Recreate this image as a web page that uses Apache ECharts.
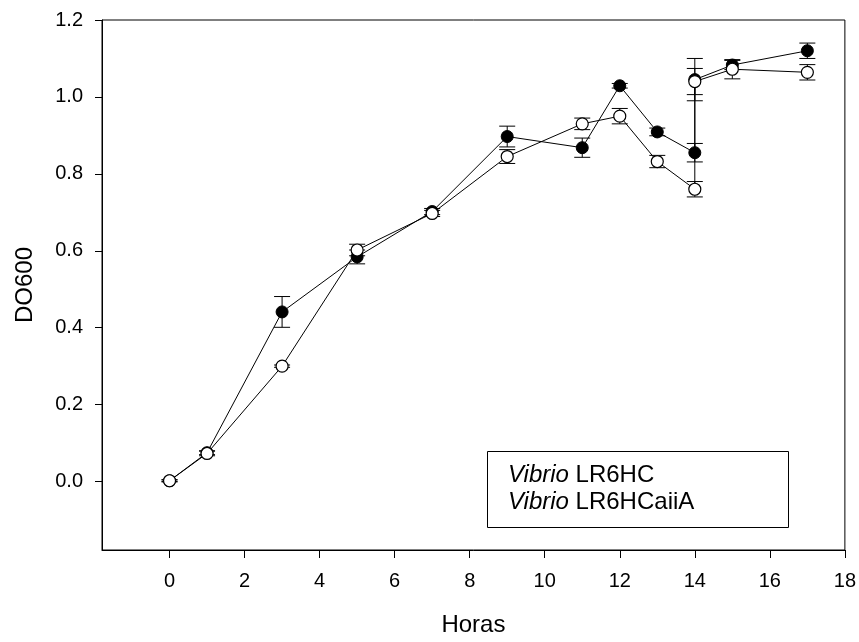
<!DOCTYPE html>
<html>
<head>
<meta charset="utf-8">
<script src="https://cdn.jsdelivr.net/npm/echarts@6/dist/echarts.min.js"></script>
<style>html,body{margin:0;padding:0;background:#fff}#c{width:859px;height:642px}</style>
</head>
<body>
<div id="c"></div>
<script>
// ---- data ----
var hours = [0, 1, 3, 5, 7, 9, 11, 12, 13, 14, 14, 15, 17];
var lr6hc = [0.002, 0.075, 0.441, 0.584, 0.702, 0.897, 0.868, 1.029, 0.909, 0.855, 1.045, 1.083, 1.120];
var lr6hcErr = [0.002, 0.005, 0.040, 0.018, 0.008, 0.027, 0.025, 0.006, 0.010, 0.024, 0.055, 0.012, 0.020];
var lr6hcaiiA = [0.002, 0.073, 0.300, 0.602, 0.697, 0.845, 0.930, 0.950, 0.832, 0.760, 1.040, 1.072, 1.064];
var lr6hcaiiAErr = [0.003, 0.006, 0.003, 0.015, 0.008, 0.018, 0.015, 0.020, 0.016, 0.020, 0.034, 0.025, 0.020];
var xTicks = [0, 2, 4, 6, 8, 10, 12, 14, 16, 18];
var yTicks = [0, 0.2, 0.4, 0.6, 0.8, 1.0, 1.2];
var seriesNames = ['Vibrio LR6HC', 'Vibrio LR6HCaiiA'];
var xName = 'Horas';
var yName = 'DO600';

var FONT = 'Liberation Sans, Arial, sans-serif';

function pts(v) { return hours.map(function (h, i) { return [h, v[i]]; }); }
function errData(v, e) { return hours.map(function (h, i) { return [h, v[i] - e[i], v[i] + e[i]]; }); }

function errRender(params, api) {
  var x = api.value(0);
  var lo = api.coord([x, api.value(1)]);
  var hi = api.coord([x, api.value(2)]);
  var hw = 8;
  var st = { stroke: '#000', lineWidth: 1 };
  return {
    type: 'group',
    children: [
      { type: 'line', shape: { x1: lo[0], y1: lo[1], x2: hi[0], y2: hi[1] }, style: st },
      { type: 'line', shape: { x1: lo[0] - hw, y1: lo[1], x2: lo[0] + hw, y2: lo[1] }, style: st },
      { type: 'line', shape: { x1: hi[0] - hw, y1: hi[1], x2: hi[0] + hw, y2: hi[1] }, style: st }
    ]
  };
}

var chart = echarts.init(document.getElementById('c'), null, { renderer: 'canvas' });
chart.setOption({
  animation: false,
  backgroundColor: '#fff',
  grid: { left: 102, right: 14, top: 20, bottom: 89, show: true, borderColor: '#000', borderWidth: 1, backgroundColor: 'transparent' },
  xAxis: {
    type: 'value', min: -1.8, max: 18,
    name: xName, nameLocation: 'middle', nameGap: 63,
    nameTextStyle: { fontFamily: FONT, fontSize: 24, color: '#000' },
    axisLine: { show: true, onZero: false, lineStyle: { color: '#000', width: 1 } },
    axisTick: { show: true, length: 8, inside: false, customValues: xTicks, lineStyle: { color: '#000' } },
    axisLabel: { customValues: xTicks, margin: 21, fontFamily: FONT, fontSize: 20, color: '#000' },
    splitLine: { show: false }
  },
  yAxis: {
    type: 'value', min: -0.178, max: 1.2,
    name: yName, nameLocation: 'middle', nameGap: 65,
    nameTextStyle: { fontFamily: FONT, fontSize: 24, color: '#000' },
    axisLine: { show: true, onZero: false, lineStyle: { color: '#000', width: 1 } },
    axisTick: { show: true, length: 7, inside: false, customValues: yTicks, lineStyle: { color: '#000' } },
    axisLabel: { customValues: yTicks, margin: 19, fontFamily: FONT, fontSize: 20, color: '#000',
      formatter: function (v) { return v.toFixed(1); } },
    splitLine: { show: false }
  },
  series: [
    { type: 'custom', name: seriesNames[0] + ' err', renderItem: errRender, data: errData(lr6hc, lr6hcErr), encode: { x: 0, y: [1, 2] }, z: 1, silent: true },
    { type: 'custom', name: seriesNames[1] + ' err', renderItem: errRender, data: errData(lr6hcaiiA, lr6hcaiiAErr), encode: { x: 0, y: [1, 2] }, z: 1, silent: true },
    { type: 'line', name: seriesNames[0], data: pts(lr6hc), symbol: 'circle', symbolSize: 12, z: 2,
      lineStyle: { color: '#000', width: 1 }, itemStyle: { color: '#000', borderColor: '#000', borderWidth: 1 } },
    { type: 'line', name: seriesNames[1], data: pts(lr6hcaiiA), symbol: 'circle', symbolSize: 12, z: 3,
      lineStyle: { color: '#000', width: 1 }, itemStyle: { color: '#fff', borderColor: '#000', borderWidth: 1.2 } }
  ],
  graphic: [
    { type: 'rect', left: 487, top: 451, shape: { width: 301, height: 76 }, style: { fill: '#fff', stroke: '#000', lineWidth: 1 }, z: 10 },
    { type: 'text', left: 508, top: 463, z: 11,
      style: { text: '{i|Vibrio} LR6HC', fontFamily: FONT, fontSize: 24, fill: '#000',
        rich: { i: { fontStyle: 'italic', fontFamily: FONT, fontSize: 24, fill: '#000' } } } },
    { type: 'text', left: 508, top: 490, z: 11,
      style: { text: '{i|Vibrio} LR6HCaiiA', fontFamily: FONT, fontSize: 24, fill: '#000',
        rich: { i: { fontStyle: 'italic', fontFamily: FONT, fontSize: 24, fill: '#000' } } } }
  ]
});
</script>
</body>
</html>
